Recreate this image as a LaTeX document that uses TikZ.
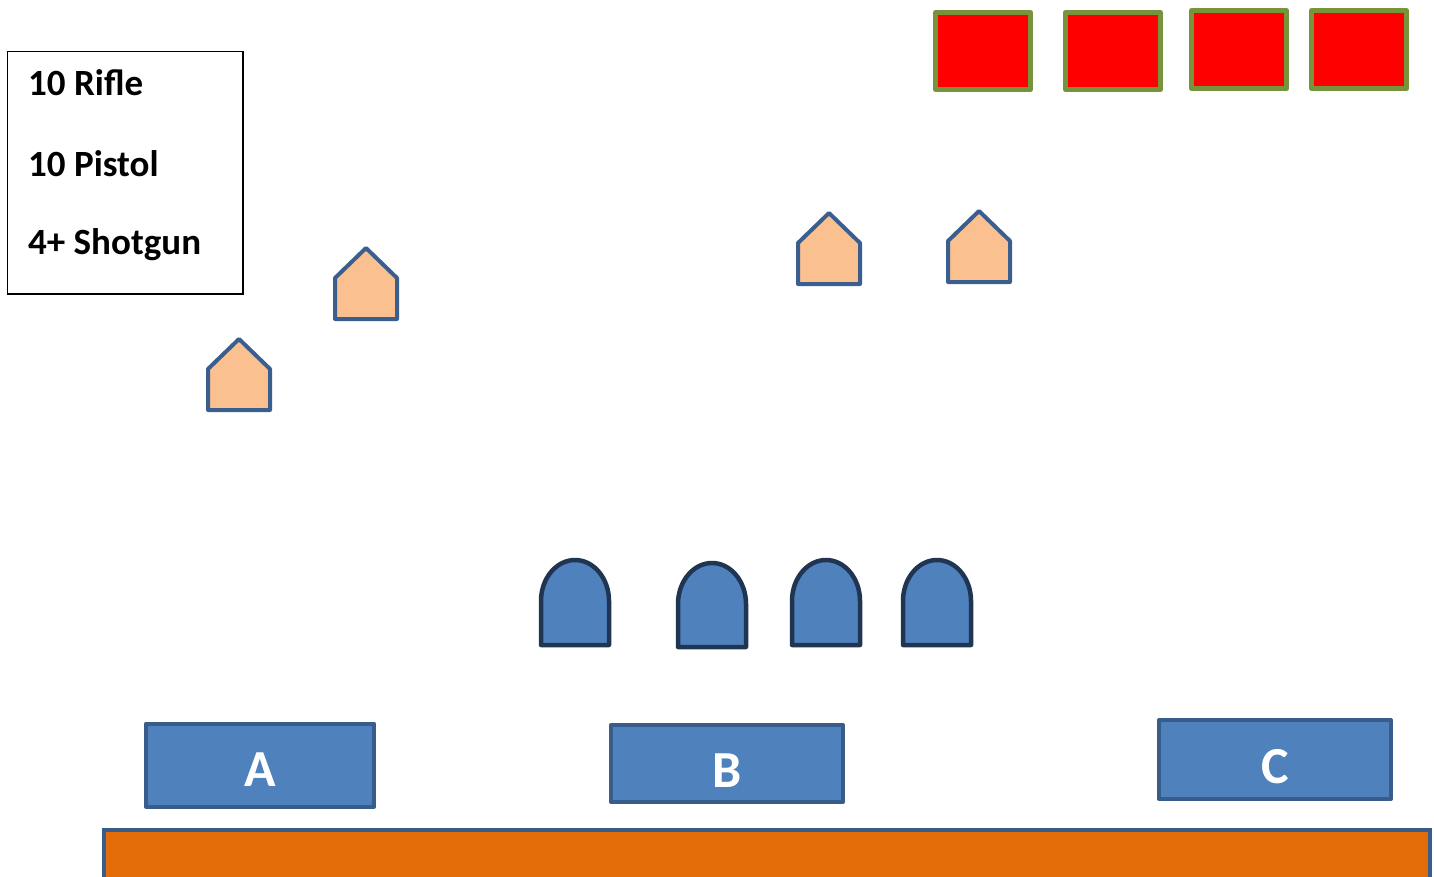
\documentclass[tikz,border=0pt]{standalone}
\usepackage{fontspec}
\setmainfont{Carlito}[BoldFont={Carlito Bold}]
\definecolor{housefill}{HTML}{FAC090}
\definecolor{houseline}{HTML}{3A5F8F}
\definecolor{archfill}{HTML}{4F81BD}
\definecolor{archline}{HTML}{1F3552}
\definecolor{boxfill}{HTML}{4F81BD}
\definecolor{boxline}{HTML}{385D8A}
\definecolor{tgtline}{HTML}{77933C}
\definecolor{barfill}{HTML}{E36C09}
\tikzset{
  house/.style={fill=housefill,draw=houseline,line width=4pt,line join=round},
  arch/.style={fill=archfill,draw=archline,line width=4.5pt,line join=round},
  target/.style={fill=red,draw=tgtline,line width=5pt,line join=round},
  stationbox/.style={fill=boxfill,draw=boxline,line width=4pt,line join=round},
  stationlabel/.style={text=white,font=\bfseries\fontsize{52}{56}\selectfont},
  legendtext/.style={anchor=base west,inner sep=0pt,font=\bfseries\fontsize{37}{40}\selectfont},
}
\newcommand{\househere}[3]{% left x, peak y, name
  \path[house] (#1,#2+71) -- (#1,#2+30) -- (#1+31,#2) -- (#1+62,#2+30) -- (#1+62,#2+71) -- cycle;
  \coordinate (#3) at (#1+31,#2+36);
}
\newcommand{\archhere}[4]{% left x, top y, bottom y, name
  \path[arch] (#1,#3) -- (#1,#2+42) arc[start angle=180,end angle=360,x radius=34,y radius=41] -- (#1+68,#3) -- cycle;
  \coordinate (#4) at (#1+34,#3);
}
\begin{document}
\begin{tikzpicture}[x=1pt,y=-1pt]
\useasboundingbox (0,0) rectangle (1434,876);
% legend
\draw[black,line width=1.5pt] (7.5,51.5) rectangle (243,294);
\node[legendtext] (rifle) at (28,95) {10 Rifle};
\node[legendtext] (pistol) at (28,176) {10 Pistol};
\node[legendtext] (shotgun) at (28,254) {4+ Shotgun};
% targets
\path[target] (935.5,12.5) rectangle (1030.5,89.5);
\path[target] (1065.5,12.5) rectangle (1160.5,89.5);
\path[target] (1191.5,10.5) rectangle (1286.5,88.5);
\path[target] (1311.5,10.5) rectangle (1406.5,88.5);
% houses
\househere{208}{339}{h1}
\househere{335}{248}{h2}
\househere{798}{213}{h3}
\househere{948}{211}{h4}
% arches
\archhere{541}{559}{645}{a1}
\archhere{678}{562}{647}{a2}
\archhere{792}{559}{645}{a3}
\archhere{903}{559}{645}{a4}
% stations
\node[stationbox,minimum width=228pt,minimum height=83pt,inner sep=0pt] (A) at (260,765) {};
\node[stationlabel] (Alabel) at ([yshift=-5pt]A.center) {A};
\node[stationbox,minimum width=232pt,minimum height=77pt,inner sep=0pt] (B) at (727,763.5) {};
\node[stationlabel] (Blabel) at ([yshift=-7pt]B.center) {B};
\node[stationbox,minimum width=232pt,minimum height=79pt,inner sep=0pt] (C) at (1275,759.5) {};
\node[stationlabel] (Clabel) at ([yshift=-7pt]C.center) {C};
% ground bar
\path[fill=barfill,draw=boxline,line width=4pt] (104,830) rectangle (1430,880);
\end{tikzpicture}
\end{document}
